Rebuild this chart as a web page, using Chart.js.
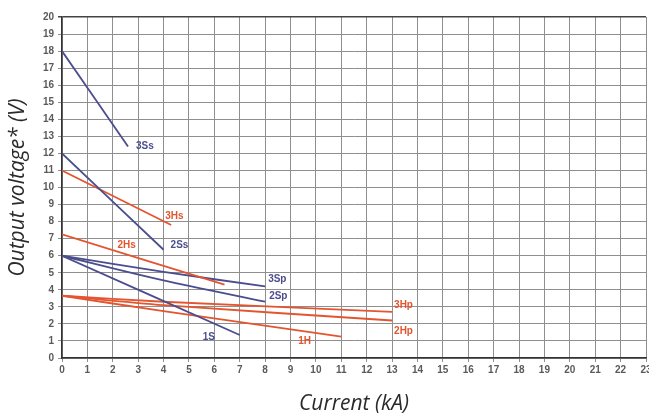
<!DOCTYPE html>
<html>
<head>
<meta charset="utf-8">
<script src="https://cdn.jsdelivr.net/npm/chart.js@4"></script>
<style>
  html, body { margin: 0; padding: 0; background: #fff; }
  #wrap { width: 649px; height: 417px; }
</style>
</head>
<body>
<div id="wrap"><canvas id="voltageChart" width="649" height="417"></canvas></div>
<script>
// axis ticks
const currentTicks = [0,1,2,3,4,5,6,7,8,9,10,11,12,13,14,15,16,17,18,19,20,21,22,23];
const voltageTicks = [0,1,2,3,4,5,6,7,8,9,10,11,12,13,14,15,16,17,18,19,20];

// series: current (kA) and output voltage (V)
const seriesNames = ['3Ss', '2Ss', '3Hs', '2Hs', '3Sp', '2Sp', '1S', '3Hp', '2Hp', '1H'];
const cur3Ss = [0, 2.6];       const volt3Ss = [18, 12.4];
const cur2Ss = [0, 4];         const volt2Ss = [12, 6.35];
const cur3Hs = [0, 4.3];       const volt3Hs = [11, 7.8];
const cur2Hs = [0, 6.4];       const volt2Hs = [7.25, 4.3];
const cur3Sp = [0, 4, 8];      const volt3Sp = [6, 5.05, 4.2];
const cur2Sp = [0, 4, 8];      const volt2Sp = [6, 4.55, 3.3];
const cur1S  = [0, 7];         const volt1S  = [6, 1.35];
const cur3Hp = [0, 4, 13];     const volt3Hp = [3.65, 3.3, 2.7];
const cur2Hp = [0, 4, 13];     const volt2Hp = [3.65, 3.1, 2.2];
const cur1H  = [0, 4, 11];     const volt1H  = [3.65, 2.75, 1.25];

const allCur = [cur3Ss, cur2Ss, cur3Hs, cur2Hs, cur3Sp, cur2Sp, cur1S, cur3Hp, cur2Hp, cur1H];
const allVolt = [volt3Ss, volt2Ss, volt3Hs, volt2Hs, volt3Sp, volt2Sp, volt1S, volt3Hp, volt2Hp, volt1H];

const BLUE = '#4b4d8e';
const RED = '#e4552f';
const seriesColor = { '3Ss': BLUE, '2Ss': BLUE, '3Hs': RED, '2Hs': RED, '3Sp': BLUE, '2Sp': BLUE, '1S': BLUE, '3Hp': RED, '2Hp': RED, '1H': RED };

// where to put each label, relative to the end of its line (px)
const labelOffset = {
    '3Ss': [8, 0, 'left'], '2Ss': [7, -4, 'left'], '3Hs': [-6, -9, 'left'],
    '2Hs': [-107, -39, 'left'], '3Sp': [3, -7, 'left'], '2Sp': [4, -5, 'left'],
    '1S': [-37, 2, 'left'], '1H': [-43, 5, 'left'], '3Hp': [2, -7, 'left'], '2Hp': [2, 11, 'left']
};

const datasets = seriesNames.map((name, i) => ({
    label: name,
    data: allCur[i].map((c, j) => ({ x: c, y: allVolt[i][j] })),
    borderColor: seriesColor[name],
    borderWidth: 1.8,
    pointRadius: 0,
    tension: 0.3,
    fill: false
}));

const lineLabels = {
    id: 'lineLabels',
    afterDatasetsDraw(chart) {
        const ctx = chart.ctx;
        ctx.save();
        ctx.font = 'bold 10px "Liberation Sans", Arial, sans-serif';
        ctx.textBaseline = 'middle';
        chart.data.datasets.forEach((ds, i) => {
            const pts = chart.getDatasetMeta(i).data;
            const last = pts[pts.length - 1];
            const off = labelOffset[ds.label];
            ctx.fillStyle = ds.borderColor;
            ctx.textAlign = off[2];
            ctx.fillText(ds.label, last.x + off[0], last.y + off[1]);
        });
        ctx.restore();
    }
};

const axisTitles = {
    id: 'axisTitles',
    afterDraw(chart) {
        const ctx = chart.ctx;
        const a = chart.chartArea;
        ctx.save();
        ctx.fillStyle = '#2a2a2a';
        ctx.font = 'italic 21px "Open Sans", sans-serif';
        ctx.textAlign = 'center';
        ctx.textBaseline = 'middle';
        ctx.fillText('Current (kA)', (a.left + a.right) / 2, 404);
        ctx.translate(18, (a.top + a.bottom) / 2);
        ctx.rotate(-Math.PI / 2);
        ctx.fillText('Output voltage* (V)', 0, 0);
        ctx.restore();
    }
};

const tickFont = { family: '"Liberation Sans", Arial, sans-serif', size: 10, weight: 'bold' };

new Chart(document.getElementById('voltageChart').getContext('2d'), {
    type: 'line',
    data: { datasets: datasets },
    options: {
        responsive: false,
        animation: false,
        layout: { padding: { top: 17, right: 3, left: 0, bottom: 0 } },
        plugins: { legend: { display: false }, tooltip: { enabled: false } },
        scales: {
            x: {
                type: 'linear',
                min: 0,
                max: 23,
                afterBuildTicks: (s) => { s.ticks = currentTicks.map(v => ({ value: v })); },
                afterFit: (s) => { s.height = 59; s.paddingLeft = 0; s.paddingRight = 0; },
                ticks: { color: '#5a5a5a', font: tickFont, padding: 2, maxRotation: 0, autoSkip: false },
                grid: { color: '#8f8f8f', lineWidth: 1, tickLength: 4 },
                border: { color: '#333', width: 1.5 }
            },
            y: {
                type: 'linear',
                min: 0,
                max: 20,
                afterBuildTicks: (s) => { s.ticks = voltageTicks.map(v => ({ value: v })); },
                afterFit: (s) => { s.width = 62; s.paddingTop = 0; s.paddingBottom = 0; },
                ticks: { color: '#5a5a5a', font: tickFont, padding: 4 },
                grid: {
                    color: (c) => c.tick && c.tick.value === 20 ? '#444' : '#8f8f8f',
                    lineWidth: (c) => c.tick && c.tick.value === 20 ? 1.5 : 1,
                    tickLength: 4
                },
                border: { color: '#333', width: 1.5 }
            }
        }
    },
    plugins: [lineLabels, axisTitles]
});
</script>
</body>
</html>
